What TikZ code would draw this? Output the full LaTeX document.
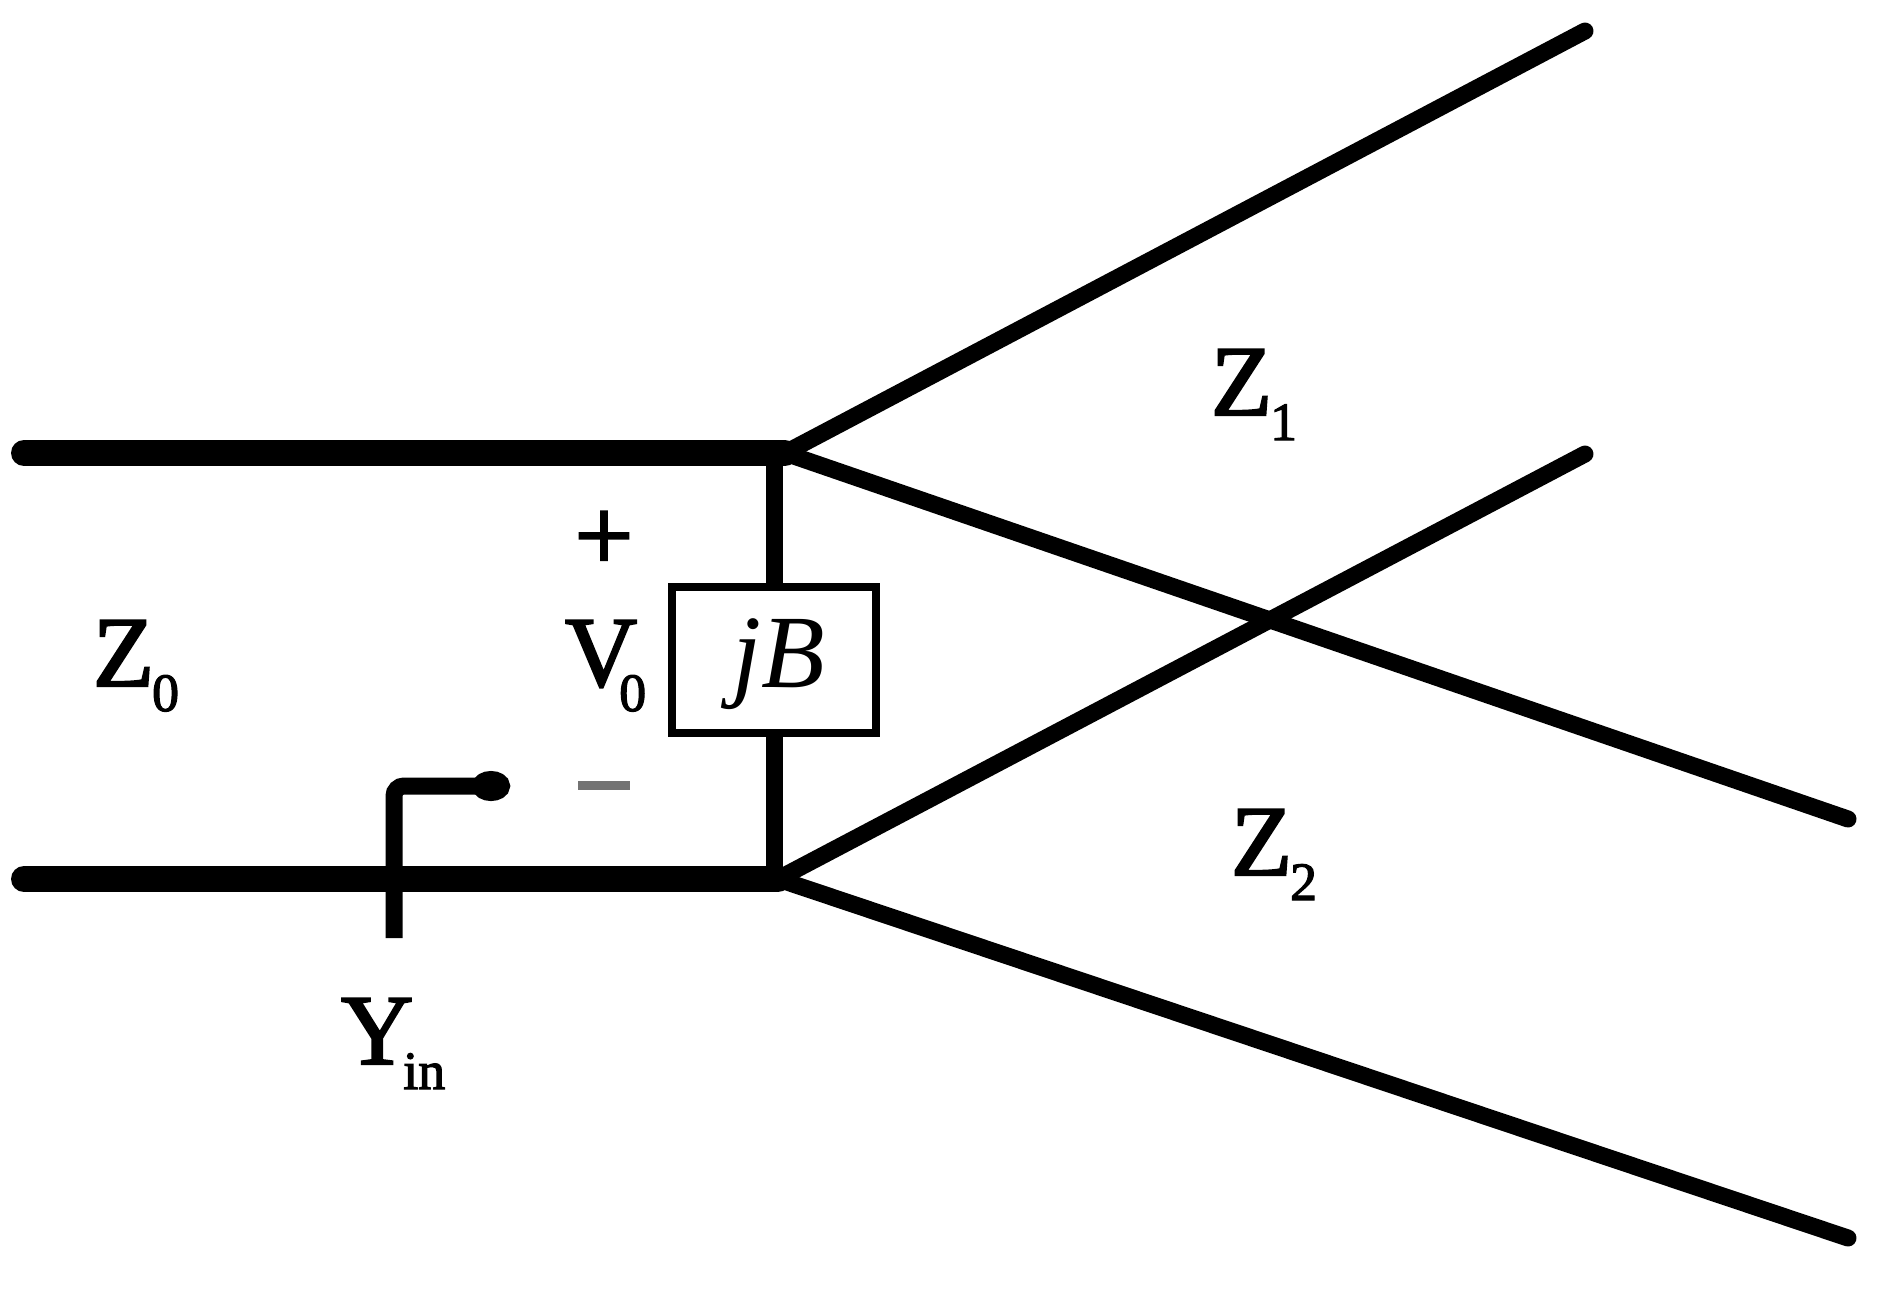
\documentclass[tikz,border=0pt]{standalone}
\usepackage{fontspec}
\setmainfont[AutoFakeBold=2.2]{Liberation Serif}
\usetikzlibrary{arrows.meta}
\newcommand{\lab}[3][0pt]{\fontsize{50}{50}\selectfont\bfseries #2\kern#1\raisebox{-12.5pt}{\fontsize{27}{27}\selectfont #3}}
\tikzset{
  x=0.5pt,y=-0.5pt,
  feed/.style={line width=13pt,line cap=round},
  branch/.style={line width=8.5pt,line cap=round},
  stub/.style={line width=8.5pt},
  lbl/.style={inner sep=0pt,outer sep=0pt,anchor=base west},
  sym/.style={inner sep=0pt,outer sep=0pt,anchor=center},
  elem/.style={draw,line width=4pt,minimum width=102pt,minimum height=73pt,inner sep=0pt,fill=white},
  port/.style={line width=8.5pt,rounded corners=5pt,-{Ellipse[length=19pt,width=15pt]}}
}
\begin{document}
\begin{tikzpicture}
\useasboundingbox (0,0) rectangle (1886,1291);
\coordinate (TL) at (24,453);
\coordinate (T) at (785,453);
\coordinate (BL) at (24,879);
\coordinate (B) at (778,879);
\coordinate (E1) at (1585,31);
\coordinate (E2) at (1848,819);
\coordinate (E3) at (1585,454);
\coordinate (E4) at (1848,1238);
\coordinate (YA) at (394,938);
\coordinate (YB) at (394,786);
\coordinate (YC) at (510,786);
\node[elem] (jb) at (774,660) {};
\node[sym] (jbt) at (779,664) {\fontsize{52}{52}\selectfont\itshape\bfseries jB};
\draw[stub] (jb.north) -- (jb.north|-T);
\draw[stub] (jb.south) -- (jb.south|-B);
\draw[feed] (TL) -- (T);
\draw[feed] (BL) -- (B);
\draw[branch] (T) -- (E1);
\draw[branch] (T) -- (E2);
\draw[branch] (B) -- (E3);
\draw[branch] (B) -- (E4);
\draw[port] (YA) -- (YB) -- (YC);
\node[lbl] (z0) at (93,686) {\lab[-1pt]{Z}{0}};
\node[lbl] (z1) at (1211,415) {\lab[-1pt]{Z}{1}};
\node[lbl] (z2) at (1231,875) {\lab[-1pt]{Z}{2}};
\node[lbl] (v0) at (565,686) {\lab[-9pt]{V}{0}};
\node[lbl] (yin) at (341,1064) {\lab[-5pt]{Y}{in}};
\node[sym] (plus) at (604,541) {\fontsize{52}{52}\selectfont\bfseries +};
\node[sym] (minus) at (604,785) {\textcolor{black!55}{\rule{26pt}{4.5pt}}};
\end{tikzpicture}
\end{document}
